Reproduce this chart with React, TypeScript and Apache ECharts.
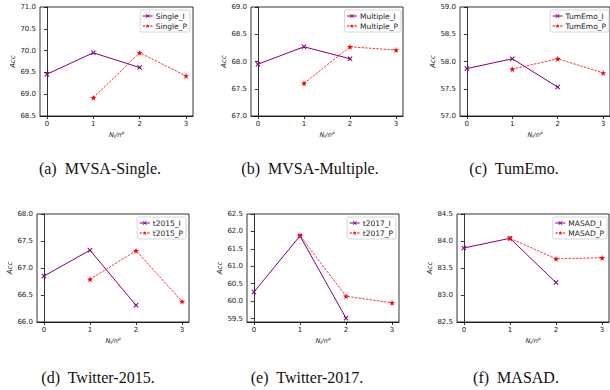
import React, { useEffect, useRef } from "react";
import * as echarts from "echarts";

// x positions
const xI = [0, 1, 2];
const xP = [1, 2, 3];
const xTicks = [0, 1, 2, 3];

// series values
const singleI = [69.46, 69.95, 69.61];
const singleP = [68.92, 69.95, 69.42];
const multipleI = [67.95, 68.27, 68.05];
const multipleP = [67.6, 68.27, 68.21];
const tumemoI = [57.87, 58.05, 57.53];
const tumemoP = [57.86, 58.05, 57.79];
const t2015I = [66.85, 67.33, 66.31];
const t2015P = [66.79, 67.32, 66.38];
const t2017I = [60.26, 61.87, 59.51];
const t2017P = [61.88, 60.14, 59.95];
const masadI = [83.87, 84.05, 83.23];
const masadP = [84.05, 83.67, 83.69];

// y tick labels
const yTicks1 = [68.5, 69.0, 69.5, 70.0, 70.5, 71.0];
const yTicks2 = [67.0, 67.5, 68.0, 68.5, 69.0];
const yTicks3 = [57.0, 57.5, 58.0, 58.5, 59.0];
const yTicks4 = [66.0, 66.5, 67.0, 67.5, 68.0];
const yTicks5 = [59.5, 60.0, 60.5, 61.0, 61.5, 62.0, 62.5];
const yTicks6 = [82.5, 83.0, 83.5, 84.0, 84.5];

const namesI = ["Single_I", "Multiple_I", "TumEmo_I", "t2015_I", "t2017_I", "MASAD_I"];
const namesP = ["Single_P", "Multiple_P", "TumEmo_P", "t2015_P", "t2017_P", "MASAD_P"];
const captions = ["(a)  MVSA-Single.", "(b)  MVSA-Multiple.", "(c)  TumEmo.", "(d)  Twitter-2015.", "(e)  Twitter-2017.", "(f)  MASAD."];

const X_SYMBOL = "path://M0,1.5 L1.5,0 L5,3.5 L8.5,0 L10,1.5 L6.5,5 L10,8.5 L8.5,10 L5,6.5 L1.5,10 L0,8.5 L3.5,5 Z";
const STAR_SYMBOL = "path://M5,0 L6.18,3.38 L9.76,3.45 L6.9,5.62 L7.94,9.05 L5,7 L2.06,9.05 L3.1,5.62 L0.24,3.45 L3.82,3.38 Z";

export default function App() {
  const ref = useRef<HTMLDivElement>(null);
  useEffect(() => {
    document.body.style.margin = "0";
    const chart = echarts.init(ref.current!, null, { renderer: "svg" });

    const panels = [
      { grid: { left: 40, top: 7, width: 153, height: 109 }, yMin: 68.5, yMax: 71.0, ticks: yTicks1, I: singleI, P: singleP, legendRight: 420, legendTop: 10, cap: [100, 168] },
      { grid: { left: 251, top: 7, width: 152, height: 109 }, yMin: 67.0, yMax: 69.0, ticks: yTicks2, I: multipleI, P: multipleP, legendRight: 209, legendTop: 10, cap: [310, 168] },
      { grid: { left: 460, top: 7, width: 153, height: 109 }, yMin: 57.0, yMax: 59.0, ticks: yTicks3, I: tumemoI, P: tumemoP, legendRight: 1, legendTop: 10, cap: [514, 168] },
      { grid: { left: 37, top: 214, width: 152, height: 108 }, yMin: 66.0, yMax: 68.0, ticks: yTicks4, I: t2015I, P: t2015P, legendRight: 424, legendTop: 217, cap: [98, 377] },
      { grid: { left: 247, top: 214, width: 152, height: 108 }, yMin: 59.4, yMax: 62.5, ticks: yTicks5, I: t2017I, P: t2017P, legendRight: 214, legendTop: 217, cap: [307, 377] },
      { grid: { left: 457, top: 214, width: 152, height: 108 }, yMin: 82.5, yMax: 84.5, ticks: yTicks6, I: masadI, P: masadP, legendRight: 3, legendTop: 217, cap: [516, 377] },
    ];

    const tickFont = { fontFamily: "DejaVu Sans", fontSize: 7, color: "#222" };

    const option: any = {
      animation: false,
      backgroundColor: "#fff",
      grid: panels.map((p) => ({ ...p.grid, show: true, borderColor: "#000", borderWidth: 0.8, backgroundColor: "transparent" })),
      xAxis: panels.map((p, i) => ({
        type: "value",
        gridIndex: i,
        min: -0.15,
        max: 3.15,
        axisLine: { show: true, lineStyle: { color: "#000", width: 0.8 } },
        axisTick: { show: true, length: 3, lineStyle: { color: "#000", width: 0.8 }, customValues: xTicks },
        axisLabel: { ...tickFont, margin: 4, customValues: xTicks, formatter: (v: number) => String(v) },
        splitLine: { show: false },
        name: "{n|N}{s|I}{n|/n}{p|P}",
        nameLocation: "middle",
        nameGap: 15,
        nameTextStyle: {
          rich: {
            n: { fontFamily: "DejaVu Sans", fontStyle: "italic", fontSize: 6.5, color: "#222" },
            s: { fontFamily: "DejaVu Sans", fontStyle: "italic", fontSize: 4.5, color: "#222", verticalAlign: "bottom", padding: [3, 0, 0, 0] },
            p: { fontFamily: "DejaVu Sans", fontStyle: "italic", fontSize: 4.5, color: "#222", verticalAlign: "top", padding: [0, 0, 3, 0] },
          },
        },
      })),
      yAxis: panels.map((p, i) => ({
        type: "value",
        gridIndex: i,
        min: p.yMin,
        max: p.yMax,
        axisLine: { show: true, lineStyle: { color: "#000", width: 0.8 } },
        axisTick: { show: true, length: 3, lineStyle: { color: "#000", width: 0.8 }, customValues: p.ticks },
        axisLabel: { ...tickFont, margin: 4, customValues: p.ticks, formatter: (v: number) => v.toFixed(1) },
        splitLine: { show: false },
        name: "Acc",
        nameLocation: "middle",
        nameGap: 23,
        nameRotate: 90,
        nameTextStyle: { fontFamily: "DejaVu Sans", fontStyle: "italic", fontSize: 7, color: "#222" },
      })),
      legend: panels.map((p, i) => ({
        data: [namesI[i], namesP[i]],
        orient: "vertical",
        right: p.legendRight,
        top: p.legendTop,
        itemWidth: 10,
        itemHeight: 5,
        itemGap: 2,
        padding: [2, 3, 2, 2],
        borderColor: "#cccccc",
        borderWidth: 0.8,
        borderRadius: 2,
        backgroundColor: "rgba(255,255,255,0.8)",
        lineStyle: { width: 1 },
        textStyle: { fontFamily: "DejaVu Sans", fontSize: 7.5, color: "#222", padding: [0, 0, 0, -2] },
      })),
      series: panels.flatMap((p, i) => [
        {
          type: "line",
          name: namesI[i],
          xAxisIndex: i,
          yAxisIndex: i,
          data: xI.map((x, k) => [x, p.I[k]]),
          symbol: X_SYMBOL,
          symbolSize: 5,
          itemStyle: { color: "#800080" },
          lineStyle: { color: "#800080", width: 1 },
          z: 3,
        },
        {
          type: "line",
          name: namesP[i],
          xAxisIndex: i,
          yAxisIndex: i,
          data: xP.map((x, k) => [x, p.P[k]]),
          symbol: STAR_SYMBOL,
          symbolSize: 6,
          itemStyle: { color: "#ff0000" },
          lineStyle: { color: "#ff0000", width: 0.8, type: [2.5, 1.2] },
          z: 4,
        },
      ]),
      graphic: panels.map((p, i) => ({
        type: "text",
        x: p.cap[0],
        y: p.cap[1],
        style: {
          text: captions[i],
          fontFamily: "Liberation Serif",
          fontSize: 16,
          fill: "#111",
          textAlign: "center",
          textVerticalAlign: "middle",
        },
      })),
    };
    chart.setOption(option);
    return () => chart.dispose();
  }, []);
  return <div ref={ref} style={{ width: 610, height: 390 }} />;
}
